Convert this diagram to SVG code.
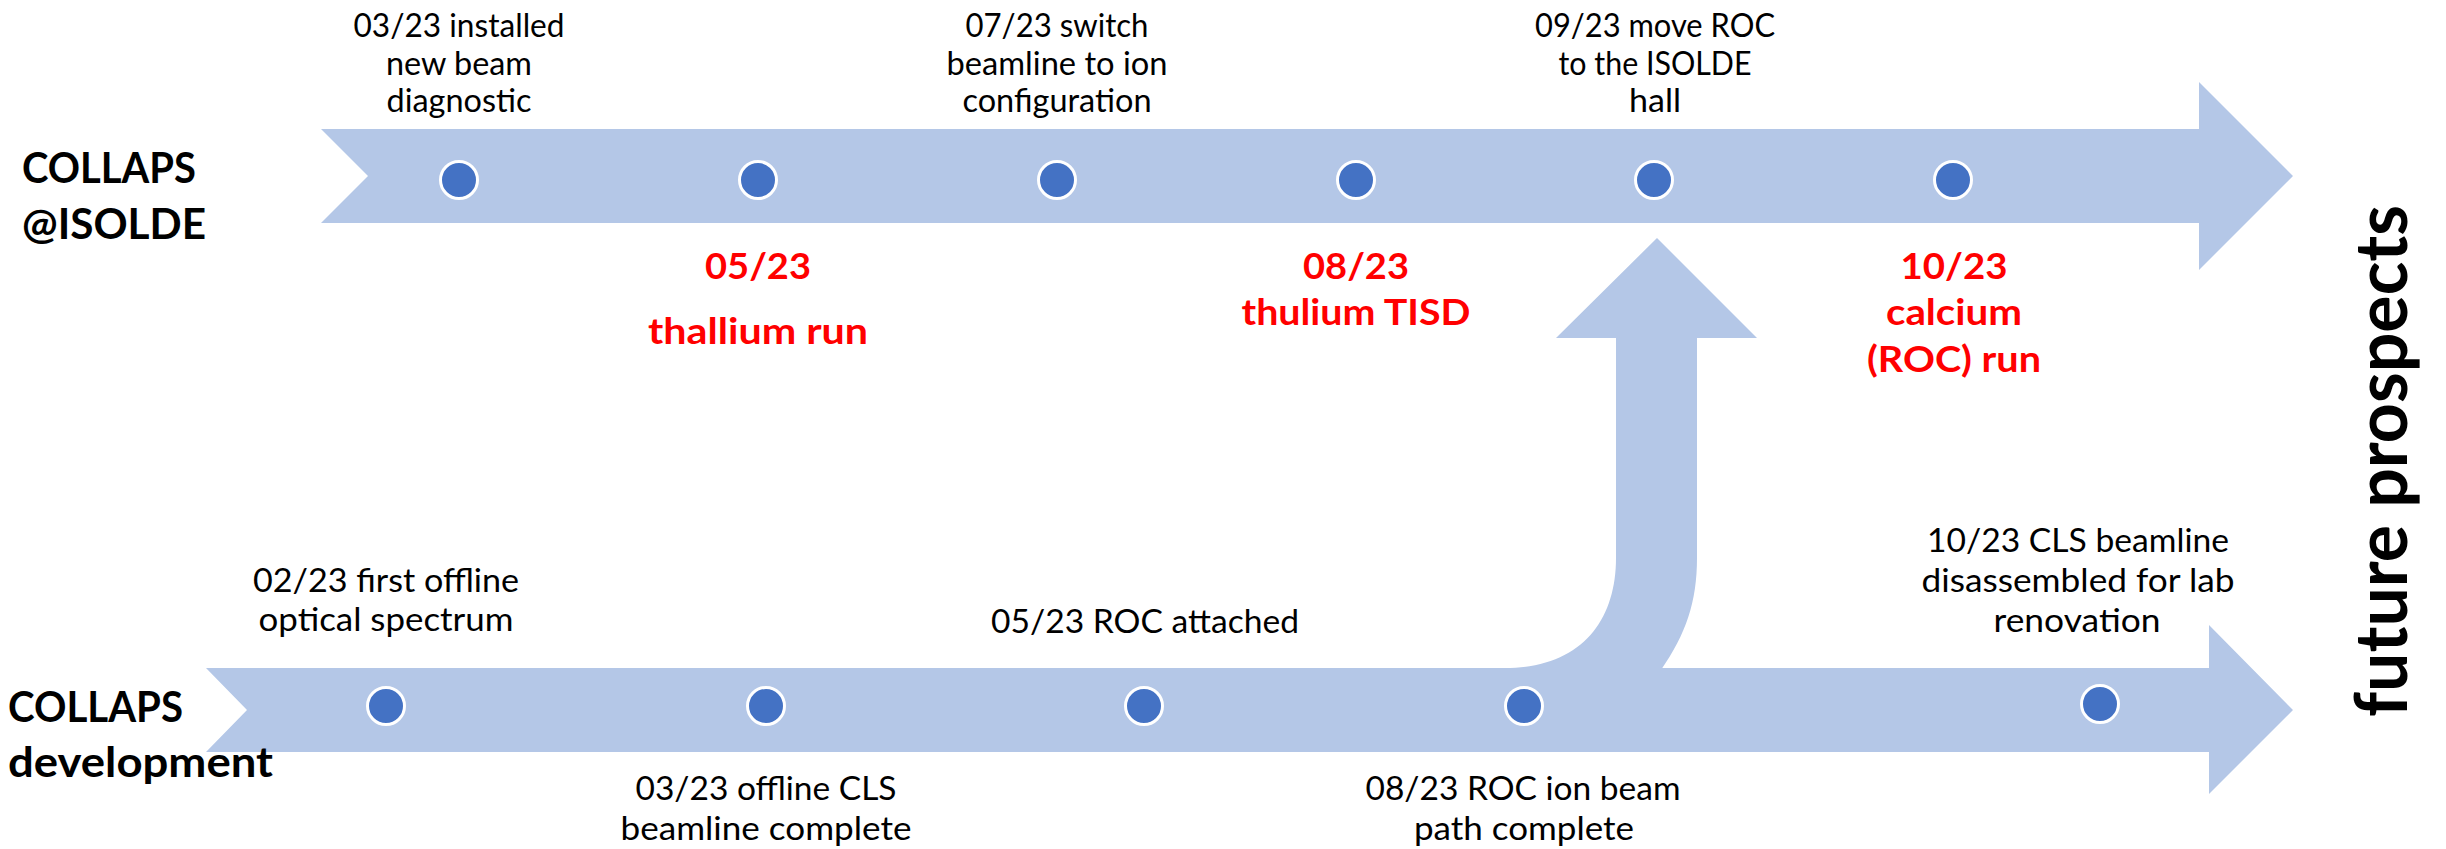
<svg xmlns="http://www.w3.org/2000/svg" width="2446" height="849" viewBox="0 0 2446 849">
<style>
.band{fill:#B4C7E7;stroke:none}
.dot{fill:#4472C4;stroke:#FFFFFF;stroke-width:3}
.t{font-family:Lato,"Liberation Sans",sans-serif;font-size:32px;fill:#000;text-anchor:middle}
.r{font-family:Lato,"Liberation Sans",sans-serif;font-size:36px;font-weight:bold;fill:#FF0000;text-anchor:middle}
.h{font-family:Lato,"Liberation Sans",sans-serif;font-size:42px;font-weight:bold;fill:#000}
.fp{font-family:Lato,"Liberation Sans",sans-serif;font-size:72px;font-weight:bold;fill:#000;text-anchor:middle}
</style>
<rect width="2446" height="849" fill="#FFFFFF"/>
<g id="connectors">
  <path id="isolde-timeline" class="band" d="M321,129 L2199,129 L2199,82 L2293,176 L2199,270 L2199,223 L321,223 L368,176 Z"/>
  <path id="dev-timeline" class="band" d="M206,668 L2209,668 L2209,625 L2293,710 L2209,794 L2209,752 L206,752 L247,710 Z"/>
  <path id="transfer-arrow" class="band" d="M1505,670 L1505,668 C1580,668 1616,622 1616,558 L1616,338 L1556,338 L1657,238 L1757,338 L1697,338 L1697,558 C1697,602 1686,634 1661,670 Z"/>
</g>
<g id="label-isolde"><text class="h" x="22" y="183" textLength="174" lengthAdjust="spacingAndGlyphs">COLLAPS</text><text class="h" x="22" y="239" textLength="184" lengthAdjust="spacingAndGlyphs">@ISOLDE</text></g>
<g id="label-dev"><text class="h" x="8" y="722" textLength="175" lengthAdjust="spacingAndGlyphs">COLLAPS</text><text class="h" x="8" y="777" textLength="265" lengthAdjust="spacingAndGlyphs">development</text></g>
<g id="future-prospects"><text class="fp" transform="translate(2407,461) rotate(-90)" x="0" y="0" textLength="512" lengthAdjust="spacingAndGlyphs">future prospects</text></g>

<g id="ev-0323-diag"><circle class="dot" cx="459" cy="180" r="18.5"/><text class="t" x="459" y="37" textLength="211" lengthAdjust="spacingAndGlyphs">03/23 installed</text><text class="t" x="459" y="75" textLength="146" lengthAdjust="spacingAndGlyphs">new beam</text><text class="t" x="459" y="112" textLength="145" lengthAdjust="spacingAndGlyphs">diagnostic</text></g>
<g id="ev-0523-tl"><circle class="dot" cx="758" cy="180" r="18.5"/><text class="r" x="758" y="279" textLength="106" lengthAdjust="spacingAndGlyphs">05/23</text><text class="r" x="758" y="344" textLength="220" lengthAdjust="spacingAndGlyphs">thallium run</text></g>
<g id="ev-0723-switch"><circle class="dot" cx="1057" cy="180" r="18.5"/><text class="t" x="1057" y="37" textLength="183" lengthAdjust="spacingAndGlyphs">07/23 switch</text><text class="t" x="1057" y="75" textLength="221" lengthAdjust="spacingAndGlyphs">beamline to ion</text><text class="t" x="1057" y="112" textLength="189" lengthAdjust="spacingAndGlyphs">configuration</text></g>
<g id="ev-0823-tm"><circle class="dot" cx="1356" cy="180" r="18.5"/><text class="r" x="1356" y="279" textLength="106" lengthAdjust="spacingAndGlyphs">08/23</text><text class="r" x="1356" y="325" textLength="229" lengthAdjust="spacingAndGlyphs">thulium TISD</text></g>
<g id="ev-0923-move"><circle class="dot" cx="1654" cy="180" r="18.5"/><text class="t" x="1655" y="37" textLength="240" lengthAdjust="spacingAndGlyphs">09/23 move ROC</text><text class="t" x="1655" y="75" textLength="193" lengthAdjust="spacingAndGlyphs">to the ISOLDE</text><text class="t" x="1655" y="112" textLength="52" lengthAdjust="spacingAndGlyphs">hall</text></g>
<g id="ev-1023-ca"><circle class="dot" cx="1953" cy="180" r="18.5"/><text class="r" x="1954" y="279" textLength="107" lengthAdjust="spacingAndGlyphs">10/23</text><text class="r" x="1954" y="325" textLength="136" lengthAdjust="spacingAndGlyphs">calcium</text><text class="r" x="1954" y="372" textLength="174" lengthAdjust="spacingAndGlyphs">(ROC) run</text></g>

<g id="ev-0223-optical"><circle class="dot" cx="386" cy="706" r="18.5"/><text class="t" x="386" y="592" textLength="266" lengthAdjust="spacingAndGlyphs">02/23 first offline</text><text class="t" x="386" y="631" textLength="255" lengthAdjust="spacingAndGlyphs">optical spectrum</text></g>
<g id="ev-0323-cls"><circle class="dot" cx="766" cy="706" r="18.5"/><text class="t" x="766" y="800" textLength="261" lengthAdjust="spacingAndGlyphs">03/23 offline CLS</text><text class="t" x="766" y="840" textLength="291" lengthAdjust="spacingAndGlyphs">beamline complete</text></g>
<g id="ev-0523-roc"><circle class="dot" cx="1144" cy="706" r="18.5"/><text class="t" x="1145" y="633" textLength="308" lengthAdjust="spacingAndGlyphs">05/23 ROC attached</text></g>
<g id="ev-0823-roc"><circle class="dot" cx="1524" cy="706" r="18.5"/><text class="t" x="1523" y="800" textLength="315" lengthAdjust="spacingAndGlyphs">08/23 ROC ion beam</text><text class="t" x="1524" y="840" textLength="220" lengthAdjust="spacingAndGlyphs">path complete</text></g>
<g id="ev-1023-cls"><circle class="dot" cx="2100" cy="704" r="18.5"/><text class="t" x="2078" y="552" textLength="302" lengthAdjust="spacingAndGlyphs">10/23 CLS beamline</text><text class="t" x="2078" y="592" textLength="313" lengthAdjust="spacingAndGlyphs">disassembled for lab</text><text class="t" x="2077" y="632" textLength="167" lengthAdjust="spacingAndGlyphs">renovation</text></g>
</svg>
